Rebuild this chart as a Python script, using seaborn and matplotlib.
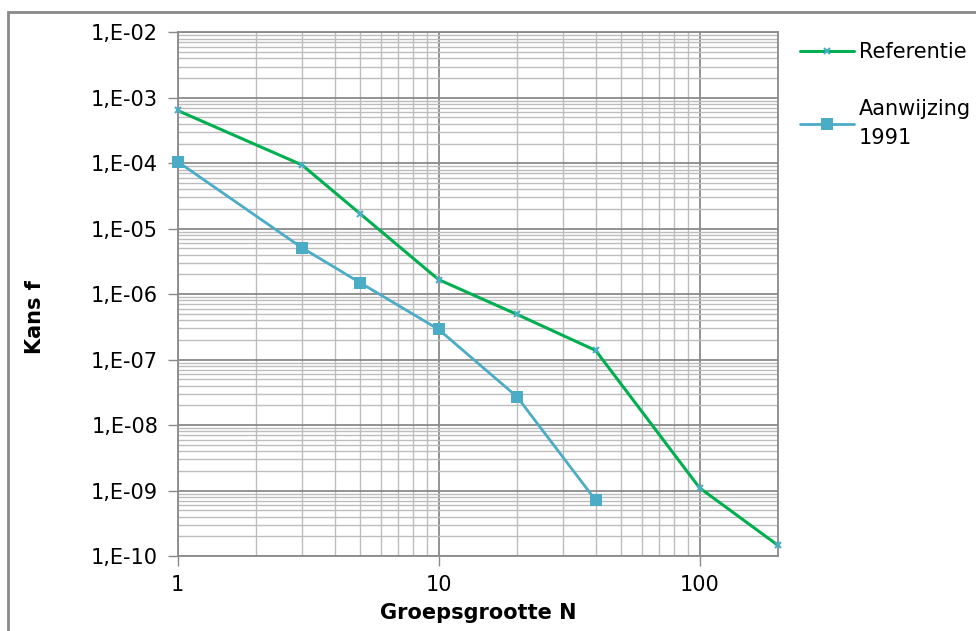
import numpy as np
import pandas as pd
import matplotlib
matplotlib.use("Agg")
import matplotlib.pyplot as plt
import matplotlib.ticker as mticker
from matplotlib.patches import Rectangle
import seaborn as sns

# Data
ref_n = [1, 3, 5, 10, 20, 40, 100, 200]
ref_f = [6.4e-4, 9.4e-5, 1.7e-5, 1.67e-6, 4.9e-7, 1.38e-7, 1.1e-9, 1.45e-10]

aanw_n = [1, 3, 5, 10, 20, 40]
aanw_f = [1.06e-4, 5.1e-6, 1.5e-6, 2.9e-7, 2.7e-8, 7.1e-10]

ref_label = "Referentie"
aanw_label = "Aanwijzing\n1991"

green = "#00B050"
blue = "#4BACC6"

sns.set_theme(style="white")
plt.rcParams["font.family"] = ["DejaVu Sans"]
plt.rcParams["text.color"] = "black"
plt.rcParams["axes.labelcolor"] = "black"
plt.rcParams["xtick.color"] = "black"
plt.rcParams["ytick.color"] = "black"

fig = plt.figure(figsize=(9.76, 6.31), dpi=100)
ax = fig.add_axes([0.1819, 0.1189, 0.6153, 0.8299])

df_ref = pd.DataFrame({"N": ref_n, "f": ref_f})
df_aanw = pd.DataFrame({"N": aanw_n, "f": aanw_f})

sns.lineplot(data=df_ref, x="N", y="f", ax=ax, color=green, linewidth=2.2,
             marker="x", markersize=5, mec=blue, mew=1.5, label=ref_label,
             zorder=4, clip_on=False)
sns.lineplot(data=df_aanw, x="N", y="f", ax=ax, color=blue, linewidth=2.0,
             marker="s", markersize=8, mec=blue, mew=0, label=aanw_label,
             zorder=4, clip_on=False)

ax.set_xscale("log")
ax.set_yscale("log")
ax.set_xlim(1, 200)
ax.set_ylim(1e-10, 1e-2)

ax.xaxis.set_major_locator(mticker.LogLocator(base=10, numticks=10))
ax.xaxis.set_minor_locator(mticker.LogLocator(base=10, subs=np.arange(2, 10), numticks=20))
ax.yaxis.set_major_locator(mticker.LogLocator(base=10, numticks=20))
ax.yaxis.set_minor_locator(mticker.LogLocator(base=10, subs=np.arange(2, 10), numticks=40))
ax.xaxis.set_major_formatter(mticker.FuncFormatter(lambda v, p: f"{v:g}"))
ax.yaxis.set_major_formatter(mticker.FuncFormatter(
    lambda v, p: "1,E" + f"{int(round(np.log10(v))):03d}"))
ax.xaxis.set_minor_formatter(mticker.NullFormatter())
ax.yaxis.set_minor_formatter(mticker.NullFormatter())

ax.grid(True, which="major", color="#8A8A8A", linewidth=1.3)
ax.grid(True, which="minor", color="#BDBDBD", linewidth=1.0)
ax.set_axisbelow(True)

ax.tick_params(axis="both", which="major", direction="out", length=7,
               width=1, color="#8A8A8A", labelsize=15, pad=7)
ax.tick_params(axis="both", which="minor", length=0)
ax.tick_params(left=True, bottom=True)
for s in ax.spines.values():
    s.set_color("#8A8A8A")
    s.set_linewidth(1.3)

ax.set_xlabel("Groepsgrootte N", fontsize=15, fontweight="bold")
ax.set_ylabel("Kans f", fontsize=15, fontweight="bold")
ax.xaxis.set_label_coords(0.5, -0.09)
ax.yaxis.set_label_coords(-0.22, 0.456)

leg = ax.legend(loc="upper left", bbox_to_anchor=(0.82, 0.933),
                bbox_transform=fig.transFigure, frameon=False, fontsize=15,
                handlelength=2.6, handletextpad=0.2, labelspacing=1.75,
                borderpad=0, borderaxespad=0)
leg.get_texts()[1].set_linespacing(1.6)

# outer chart frame
fig.patches.append(Rectangle((8 / 976, -0.05), 1.1, 1 - 12 / 631 + 0.05,
                             transform=fig.transFigure, fill=False,
                             edgecolor="#8A8A8A", linewidth=2))

fig.savefig("out.png", dpi=100)
